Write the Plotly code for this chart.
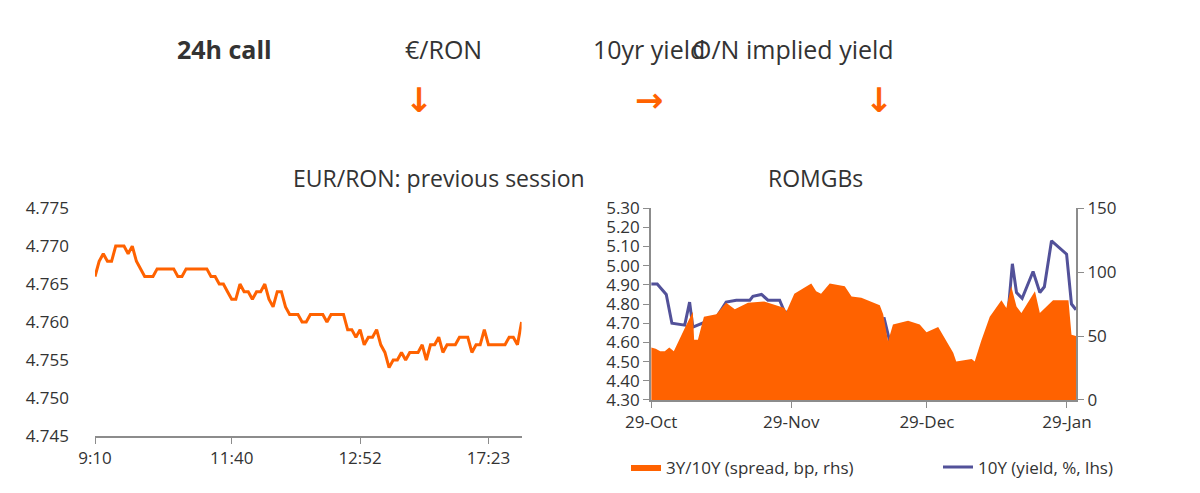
import plotly.graph_objects as go

# EUR/RON intraday
eur_ron = [4.766, 4.768, 4.769, 4.768, 4.768, 4.770, 4.770, 4.770, 4.769, 4.770, 4.768, 4.767,
           4.766, 4.766, 4.766, 4.767, 4.767, 4.767, 4.767, 4.767, 4.766, 4.766, 4.767, 4.767,
           4.767, 4.767, 4.767, 4.767, 4.766, 4.766, 4.765, 4.765, 4.764, 4.763, 4.763, 4.765,
           4.764, 4.764, 4.763, 4.764, 4.764, 4.765, 4.763, 4.762, 4.764, 4.764, 4.762, 4.761,
           4.761, 4.761, 4.760, 4.760, 4.761, 4.761, 4.761, 4.761, 4.760, 4.761, 4.761, 4.761,
           4.761, 4.759, 4.759, 4.758, 4.759, 4.757, 4.758, 4.758, 4.759, 4.757, 4.756, 4.754,
           4.755, 4.755, 4.756, 4.755, 4.756, 4.756, 4.756, 4.757, 4.755, 4.757, 4.757, 4.758,
           4.756, 4.757, 4.757, 4.757, 4.758, 4.758, 4.758, 4.756, 4.757, 4.757, 4.759, 4.757,
           4.757, 4.757, 4.757, 4.757, 4.758, 4.758, 4.757, 4.760]
time_labels = ["9:10", "11:40", "12:52", "17:23"]
time_label_pos = [0, 33, 64, 95]

# ROMGBs
spread_dates = ["2018-10-29", "2018-10-30", "2018-10-31", "2018-11-01", "2018-11-02", "2018-11-03",
                "2018-11-05 10:00", "2018-11-07 05:00", "2018-11-07 12:00", "2018-11-08 08:00",
                "2018-11-09 16:00", "2018-11-12 10:00", "2018-11-14 14:00", "2018-11-16 12:00",
                "2018-11-19 10:00", "2018-11-23", "2018-11-27 12:00", "2018-11-27 22:00",
                "2018-11-29 16:00", "2018-12-03 10:00", "2018-12-04 12:00", "2018-12-05 14:00",
                "2018-12-07 12:00", "2018-12-10 20:00", "2018-12-12 08:00", "2018-12-14 12:00",
                "2018-12-18 14:00", "2018-12-19 08:00", "2018-12-20 10:00", "2018-12-21 12:00",
                "2018-12-24 20:00", "2018-12-27 10:00", "2018-12-28 22:00", "2018-12-31 12:00",
                "2019-01-03 20:00", "2019-01-04 12:00", "2019-01-07 22:00", "2019-01-08 14:00",
                "2019-01-10", "2019-01-11 22:00", "2019-01-14 12:00", "2019-01-15 14:00",
                "2019-01-16 16:00", "2019-01-17 20:00", "2019-01-18 22:00", "2019-01-21 22:00",
                "2019-01-23", "2019-01-25 22:00", "2019-01-29 08:00", "2019-01-30", "2019-01-31"]
spread_bp = [41, 40, 38, 38, 41, 38, 56, 69, 47, 47, 65, 67, 76, 71, 76, 77, 72, 69, 83, 91, 85, 83,
             91, 89, 81, 80, 74, 67, 46, 59, 62, 59, 53, 57, 37, 30, 32, 30, 46, 65, 78, 72, 89, 73,
             68, 85, 68, 78, 78, 51, 50]

yield_dates = ["2018-10-29", "2018-10-30 08:00", "2018-11-01 08:00", "2018-11-02 14:00",
               "2018-11-05 10:00", "2018-11-06 12:00", "2018-11-07 05:00", "2018-11-12 10:00",
               "2018-11-14 14:00", "2018-11-16 20:00", "2018-11-19 20:00", "2018-11-20 12:00",
               "2018-11-22 10:00", "2018-11-23 20:00", "2018-11-26 10:00", "2018-11-27 12:00",
               "2018-11-29 16:00", "2018-12-03 10:00", "2018-12-04 12:00", "2018-12-06 10:00",
               "2018-12-07 12:00", "2018-12-10 10:00", "2018-12-11 14:00", "2018-12-12 16:00",
               "2018-12-14 12:00", "2018-12-17 12:00", "2018-12-18 20:00", "2018-12-19 12:00",
               "2018-12-20 20:00", "2018-12-21 22:00", "2018-12-24 20:00", "2018-12-31 12:00",
               "2019-01-03 14:00", "2019-01-04 12:00", "2019-01-07 22:00", "2019-01-08 14:00",
               "2019-01-09 16:00", "2019-01-10 16:00", "2019-01-11 22:00", "2019-01-14 12:00",
               "2019-01-15 22:00", "2019-01-16 22:00", "2019-01-17 20:00", "2019-01-19 02:00",
               "2019-01-21 12:00", "2019-01-23", "2019-01-24", "2019-01-25 14:00",
               "2019-01-28 22:00", "2019-01-30", "2019-01-31"]
yield_pct = [4.905, 4.905, 4.85, 4.70, 4.69, 4.81, 4.68, 4.73, 4.81, 4.82, 4.82, 4.84, 4.85, 4.82,
             4.82, 4.76, 4.75, 4.80, 4.70, 4.72, 4.79, 4.71, 4.62, 4.62, 4.59, 4.57, 4.51, 4.73,
             4.60, 4.61, 4.60, 4.60, 4.47, 4.36, 4.36, 4.37, 4.50, 4.51, 4.61, 4.78, 4.74, 5.01,
             4.86, 4.83, 4.97, 4.86, 4.89, 5.13, 5.06, 4.80, 4.77]

orange = "#FF6200"
navy = "#525199"
grey = "#333333"
axis_grey = "#8c8c8c"
font = "Open Sans"

fig = go.Figure()
fig.add_trace(go.Scatter(x=list(range(len(eur_ron))), y=eur_ron, mode="lines",
                         line=dict(color=orange, width=3), showlegend=False,
                         xaxis="x", yaxis="y"))
fig.add_trace(go.Scatter(x=spread_dates, y=spread_bp, mode="lines", fill="tozeroy",
                         fillcolor=orange, line=dict(color=orange, width=0),
                         name="3Y/10Y (spread, bp, rhs)", xaxis="x2", yaxis="y3",
                         legend="legend"))
fig.add_trace(go.Scatter(x=yield_dates, y=yield_pct, mode="lines",
                         line=dict(color=navy, width=3),
                         name="10Y (yield, %, lhs)", xaxis="x2", yaxis="y2",
                         legend="legend2"))

tickfont = dict(family=font, size=17, color=grey)
legfont = dict(family=font, size=17, color=grey)
fig.update_layout(
    width=1200, height=493, margin=dict(l=0, r=0, t=0, b=0, autoexpand=False),
    paper_bgcolor="white", plot_bgcolor="white", font=dict(family=font, color=grey),
    xaxis=dict(domain=[0.0725, 0.428], range=[0, len(eur_ron) - 1],
               tickvals=time_label_pos, ticktext=time_labels, showgrid=False,
               showline=True, linecolor=axis_grey, linewidth=2, ticks="outside",
               tickcolor=axis_grey, ticklen=6, tickfont=tickfont, zeroline=False),
    yaxis=dict(domain=[0.132, 0.594], range=[4.745, 4.775], dtick=0.005, tickformat=".3f",
               showgrid=False, zeroline=False, showline=False, tickfont=tickfont,
               ticks="", ticklabelstandoff=25),
    xaxis2=dict(domain=[0.536, 0.89], anchor="y2", type="date",
                range=["2018-10-29", "2019-01-31"],
                tickvals=["2018-10-29", "2018-11-29", "2018-12-29", "2019-01-29"],
                ticktext=["29-Oct", "29-Nov", "29-Dec", "29-Jan"], showgrid=False,
                showline=True, linecolor=axis_grey, linewidth=2, ticks="outside",
                tickcolor=axis_grey, ticklen=6, tickfont=tickfont),
    yaxis2=dict(domain=[0.205, 0.594], anchor="x2", range=[4.3, 5.3], dtick=0.1,
                tickformat=".2f", showgrid=False, zeroline=False, showline=True,
                linecolor=axis_grey, linewidth=2, ticks="outside", tickcolor=axis_grey,
                ticklen=6, tickfont=tickfont),
    yaxis3=dict(overlaying="y2", anchor="x2", side="right", range=[0, 150], dtick=50,
                showgrid=False, zeroline=False, showline=True, linecolor=axis_grey,
                linewidth=2, ticks="outside", tickcolor=axis_grey, ticklen=6,
                tickfont=tickfont),
    legend=dict(x=0.515, y=0.068, xanchor="left", yanchor="middle", font=legfont,
                bgcolor="rgba(0,0,0,0)"),
    legend2=dict(x=0.775, y=0.068, xanchor="left", yanchor="middle", font=legfont,
                 bgcolor="rgba(0,0,0,0)"),
)

header = [("<b>24h call</b>", 167), ("€/RON", 395), ("10yr yield", 641), ("O/N implied yield", 888)]
for text, x in header:
    fig.add_annotation(text=text, x=x / 1200, y=1 - 22 / 493, xref="paper", yref="paper",
                       showarrow=False, font=dict(family=font, size=25, color=grey))
for arrow, x in [("↓", 395), ("→", 641), ("↓", 888)]:
    fig.add_annotation(text="<b>" + arrow + "</b>", x=x / 1200,
                       y=1 - 70 / 493, xref="paper", yref="paper", showarrow=False,
                       font=dict(family="DejaVu Sans", size=34, color=orange))
for text, x in [("EUR/RON: previous session", 283), ("ROMGBs", 857)]:
    fig.add_annotation(text=text, x=x / 1200, y=1 - 152 / 493, xref="paper", yref="paper",
                       showarrow=False, font=dict(family=font, size=23, color=grey))

fig.write_html("out.html")
